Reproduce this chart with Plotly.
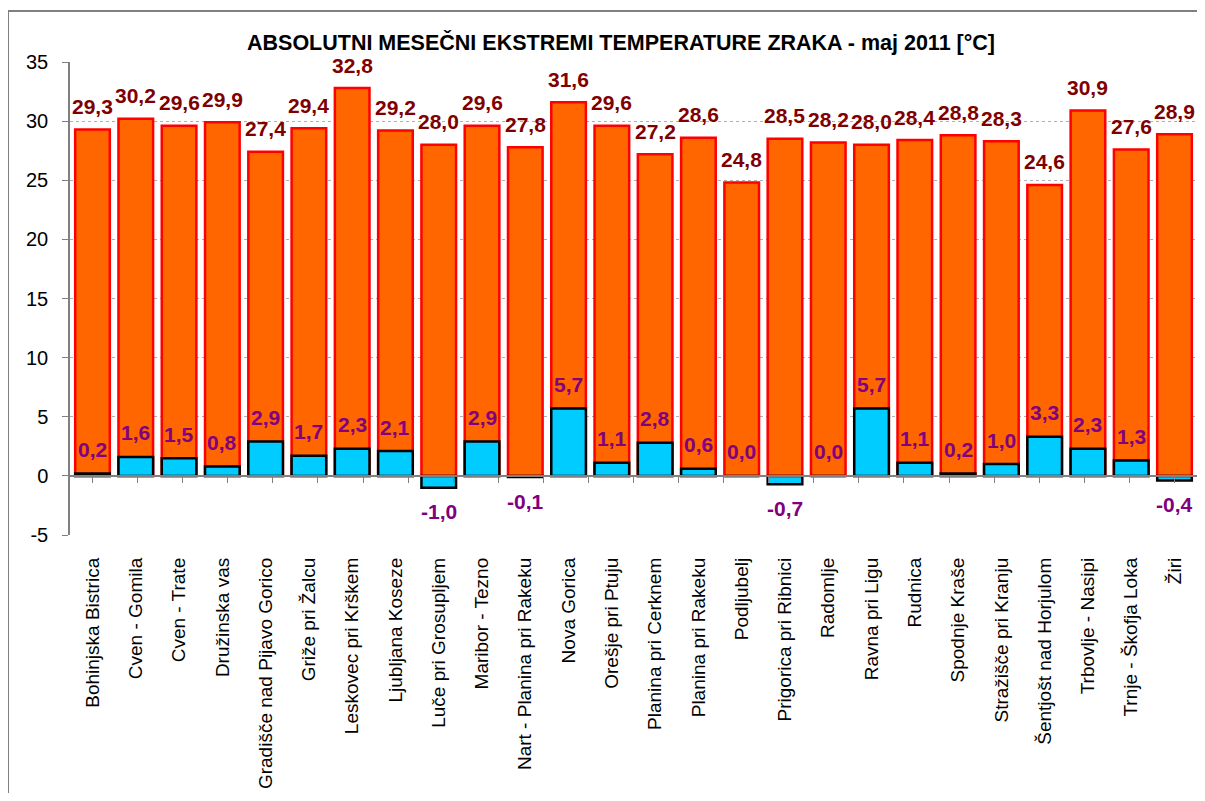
import plotly.graph_objects as go

# Podatki - absolutni mesečni ekstremi temperature zraka, maj 2011
postaje = [
    "Bohinjska Bistrica", "Cven - Gomila", "Cven - Trate", "Družinska vas",
    "Gradišče nad Pijavo Gorico", "Griže pri Žalcu", "Leskovec pri Krškem",
    "Ljubljana Koseze", "Luče pri Grosupljem", "Maribor - Tezno",
    "Nart - Planina pri Rakeku", "Nova Gorica", "Orešje pri Ptuju",
    "Planina pri Cerknem", "Planina pri Rakeku", "Podljubelj",
    "Prigorica pri Ribnici", "Radomlje", "Ravna pri Ligu", "Rudnica",
    "Spodnje Kraše", "Stražišče pri Kranju", "Šentjošt nad Horjulom",
    "Trbovlje - Nasipi", "Trnje - Škofja Loka", "Žiri",
]
t_max = [29.3, 30.2, 29.6, 29.9, 27.4, 29.4, 32.8, 29.2, 28.0, 29.6, 27.8, 31.6, 29.6,
         27.2, 28.6, 24.8, 28.5, 28.2, 28.0, 28.4, 28.8, 28.3, 24.6, 30.9, 27.6, 28.9]
t_min = [0.2, 1.6, 1.5, 0.8, 2.9, 1.7, 2.3, 2.1, -1.0, 2.9, -0.1, 5.7, 1.1,
         2.8, 0.6, 0.0, -0.7, 0.0, 5.7, 1.1, 0.2, 1.0, 3.3, 2.3, 1.3, -0.4]
y_ticks = [-5, 0, 5, 10, 15, 20, 25, 30, 35]
y_tick_text = ["-5", "0", "5", "10", "15", "20", "25", "30", "35"]

FONT = "Arial, 'Liberation Sans', sans-serif"
# stran ima 8 px robu, zato je slika manjša in zamaknjena
W, H = 1189, 785
L, R, T, B = 62, 0, 54, 258
pw, ph = W - L - R, H - T - B


def fmt(v):
    return f"{v:.1f}".replace(".", ",")


fig = go.Figure()
fig.add_trace(go.Bar(
    x=postaje, y=t_max, width=0.8,
    marker=dict(color="#FF6600", line=dict(color="#FF0000", width=2.5)),
    name="max"
))
fig.add_trace(go.Bar(
    x=postaje, y=t_min, width=0.8,
    marker=dict(color="#00CCFF", line=dict(color="#000000", width=2.5)),
    name="min"
))
# nevidna sled za os pri 0
fig.add_trace(go.Scatter(
    x=postaje, y=t_min, xaxis="x2", mode="none",
    hoverinfo="skip", showlegend=False
))

annotations = []
for p, v in zip(postaje, t_max):
    annotations.append(dict(
        x=p, y=v, text=f"<b>{fmt(v)}</b>", showarrow=False,
        yanchor="middle", yshift=23,
        font=dict(family=FONT, size=21, color="#800000")
    ))
for p, v in zip(postaje, t_min):
    annotations.append(dict(
        x=p, y=v, text=f"<b>{fmt(v)}</b>", showarrow=False,
        yanchor="middle", yshift=24 if v >= 0 else -24,
        font=dict(family=FONT, size=21, color="#800080")
    ))

# okvir grafikona (levo in zgoraj)
fx0 = (0 - L) / pw
fx1 = (W + 40 - L) / pw
fy0 = (T + ph - (H + 40)) / ph
fy1 = (T + ph - 3) / ph

fig.update_layout(
    width=W, height=H,
    margin=dict(l=L, r=R, t=T, b=B),
    barmode="overlay",
    showlegend=False,
    plot_bgcolor="white",
    paper_bgcolor="white",
    font=dict(family=FONT, color="black"),
    title=dict(
        text="<b>ABSOLUTNI MESEČNI EKSTREMI TEMPERATURE ZRAKA - maj 2011 [°C]</b>",
        x=(613 - L) / pw, xref="paper", xanchor="center",
        y=1 - 34 / H, yref="container", yanchor="middle",
        font=dict(family=FONT, size=21.5, color="black")
    ),
    xaxis=dict(
        type="category", categoryorder="array", categoryarray=postaje,
        tickangle=-90, ticks="", showline=False, showgrid=False,
        tickfont=dict(family=FONT, size=19, color="black"),
        ticklabelstandoff=18
    ),
    xaxis2=dict(
        type="category", categoryorder="array", categoryarray=postaje,
        overlaying="x", anchor="free", position=5 / 40,
        showline=True, linecolor="#808080", linewidth=1.5,
        ticks="outside", tickson="boundaries", ticklen=6, tickcolor="#808080",
        showticklabels=False, showgrid=False
    ),
    yaxis=dict(
        range=[-5, 35], tickvals=y_ticks, ticktext=y_tick_text,
        showline=True, linecolor="#808080", linewidth=1.5,
        ticks="outside", ticklen=6, tickcolor="#808080",
        showgrid=True, gridcolor="#B0B0B0", griddash="dot", gridwidth=1,
        zeroline=False,
        tickfont=dict(family=FONT, size=20, color="black"),
        ticklabelstandoff=10
    ),
    annotations=annotations,
    shapes=[dict(
        type="path", xref="paper", yref="paper",
        path=f"M {fx0},{fy0} L {fx0},{fy1} L {fx1},{fy1}",
        line=dict(color="#808080", width=2),
        layer="below"
    )]
)

fig.write_html("out.html")
